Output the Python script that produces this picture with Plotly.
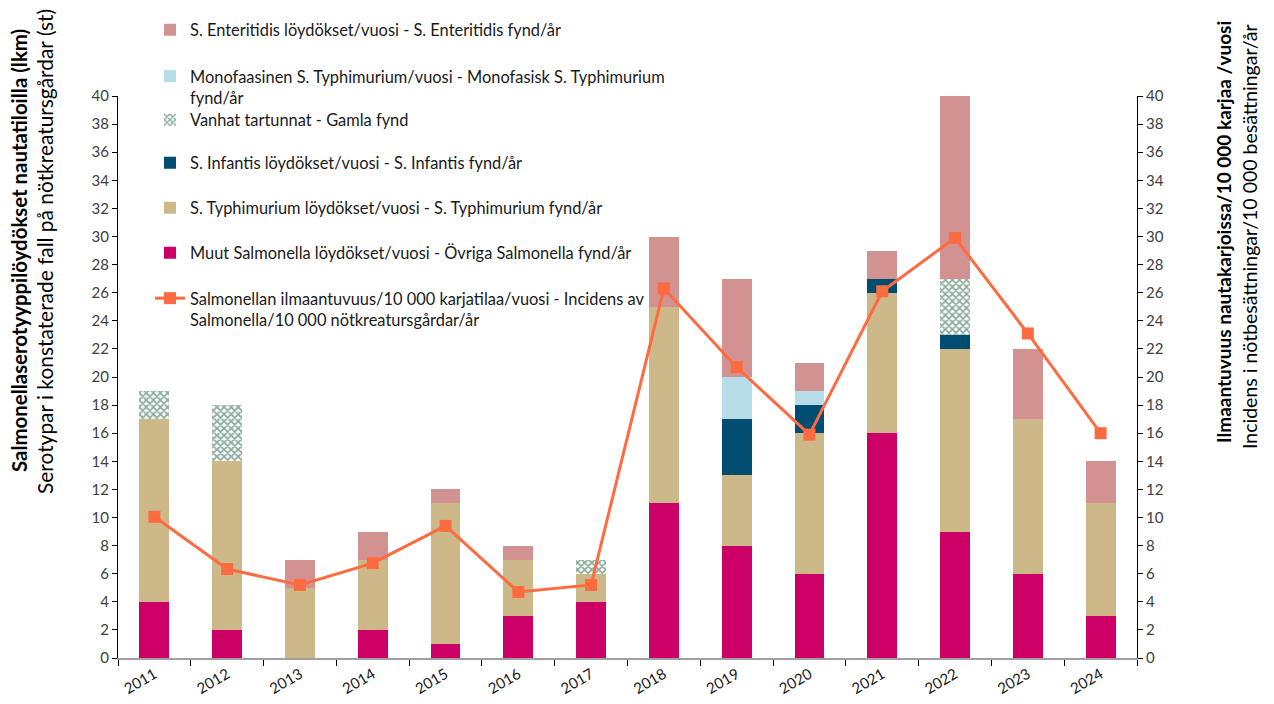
import plotly.graph_objects as go

years = ["2011", "2012", "2013", "2014", "2015", "2016", "2017", "2018", "2019", "2020", "2021", "2022", "2023", "2024"]
muut = [4, 2, 0, 2, 1, 3, 4, 11, 8, 6, 16, 9, 6, 3]
typhimurium = [13, 12, 5, 5, 10, 4, 2, 14, 5, 10, 10, 13, 11, 8]
infantis = [0, 0, 0, 0, 0, 0, 0, 0, 4, 2, 1, 1, 0, 0]
vanhat = [2, 4, 0, 0, 0, 0, 1, 0, 0, 0, 0, 4, 0, 0]
monofasisk = [0, 0, 0, 0, 0, 0, 0, 0, 3, 1, 0, 0, 0, 0]
enteritidis = [0, 0, 2, 2, 1, 1, 0, 5, 7, 2, 2, 13, 5, 3]
incidens = [10.05, 6.33, 5.2, 6.75, 9.4, 4.7, 5.2, 26.3, 20.7, 15.9, 26.1, 29.9, 23.1, 16.0]

names = {
    "muut": "Muut Salmonella löydökset/vuosi - Övriga Salmonella fynd/år",
    "typh": "S. Typhimurium löydökset/vuosi - S. Typhimurium fynd/år",
    "inf": "S. Infantis löydökset/vuosi - S. Infantis fynd/år",
    "van": "Vanhat tartunnat - Gamla fynd",
    "mono": "Monofaasinen S. Typhimurium/vuosi - Monofasisk S. Typhimurium<br>fynd/år",
    "ent": "S. Enteritidis löydökset/vuosi - S. Enteritidis fynd/år",
    "line": "Salmonellan ilmaantuvuus/10 000 karjatilaa/vuosi - Incidens av<br>Salmonella/10 000 nötkreatursgårdar/år",
}

FONT = "Lato"
fig = go.Figure()

def bar(vals, name, color, legend, pattern=None):
    marker = dict(color=color, line=dict(width=0))
    if pattern:
        marker["pattern"] = pattern
    fig.add_trace(go.Bar(x=years, y=vals, name=name, marker=marker, legend=legend,
                         showlegend=True, hoverinfo="x+y+name"))

bar(muut, names["muut"], "#CC0066", "legend6")
bar(typhimurium, names["typh"], "#CDB88A", "legend5")
bar(infantis, names["inf"], "#004D71", "legend4")
bar(vanhat, names["van"], "white", "legend3",
    pattern=dict(shape="x", fgcolor="#1F5E40", bgcolor="white", size=5, solidity=0.6))
bar(monofasisk, names["mono"], "#B7DDE8", "legend2")
bar(enteritidis, names["ent"], "#D39292", "legend")

fig.add_trace(go.Scatter(x=years, y=incidens, name=names["line"], yaxis="y2",
                         mode="lines+markers", legend="legend7", showlegend=True,
                         line=dict(color="#FF6B40", width=3),
                         marker=dict(symbol="square", size=12, color="#FF6B40")))

def py(p):
    return (658 - p) / 562

def px(p):
    return (p - 118) / 1019

leg_font = dict(family=FONT, size=16.4, color="#1a1a1a")
legend_pos = {
    "legend": (30, "middle"),
    "legend2": (72, "top"),
    "legend3": (120, "middle"),
    "legend4": (163, "middle"),
    "legend5": (208, "middle"),
    "legend6": (253, "middle"),
    "legend7": (294, "top"),
}
legends = {}
for key, (ypix, valign) in legend_pos.items():
    if valign == "top":
        legends[key] = dict(x=px(150), y=py(ypix - 13), xanchor="left", yanchor="top",
                            bgcolor="rgba(0,0,0,0)", font=leg_font, valign="top",
                            itemwidth=30, visible=True)
    else:
        legends[key] = dict(x=px(150), y=py(ypix), xanchor="left", yanchor="middle",
                            bgcolor="rgba(0,0,0,0)", font=leg_font, itemwidth=30,
                            visible=True)

fig.update_layout(
    showlegend=True,
    barmode="stack",
    bargap=0.59,
    width=1274, height=704,
    margin=dict(l=118, r=137, t=96, b=46, autoexpand=False),
    plot_bgcolor="white", paper_bgcolor="white",
    font=dict(family=FONT, size=14, color="#404040"),
    xaxis=dict(type="category", tickson="boundaries", ticks="outside", ticklen=6,
               range=[-0.5, len(years) - 0.5],
               tickcolor="black", showline=True, linecolor="#A0A0A0", linewidth=2,
               tickangle=-30, tickfont=dict(family=FONT, size=15, color="#1a1a1a"),
               showgrid=False, automargin=False),
    yaxis=dict(range=[0, 40], dtick=2, ticks="outside", ticklen=5, tickcolor="black",
               showline=True, linecolor="black", linewidth=1, showgrid=False,
               zeroline=False, automargin=False,
               tickfont=dict(family=FONT, size=15, color="#404040")),
    yaxis2=dict(range=[0, 40], dtick=2, ticks="outside", ticklen=5, tickcolor="black",
                showline=True, linecolor="black", linewidth=1, showgrid=False,
                zeroline=False, overlaying="y", side="right", automargin=False,
                tickfont=dict(family=FONT, size=15, color="#404040")),
    **legends,
)

ann = [
    ("<b>Salmonellaserotyyppilöydökset nautatiloilla (lkm)</b>", 19, 251, 20.4),
    ("Serotypar i konstaterade fall på nötkreatursgårdar (st)", 44, 252, 20.9),
    ("<b>Ilmaantuvuus nautakarjoissa/10 000 karjaa /vuosi</b>", 1223, 232, 19),
    ("Incidens i nötbesättningar/10 000 besättningar/år", 1249, 237, 19.5),
]
for text, xp, yp, fs in ann:
    fig.add_annotation(text=text, x=px(xp), y=py(yp), xref="paper", yref="paper",
                       textangle=-90, showarrow=False, xanchor="center", yanchor="middle",
                       font=dict(family=FONT, size=fs, color="black"))

fig.write_html("out.html", post_script="document.body.style.margin='0';",
               config={"displayModeBar": False})
